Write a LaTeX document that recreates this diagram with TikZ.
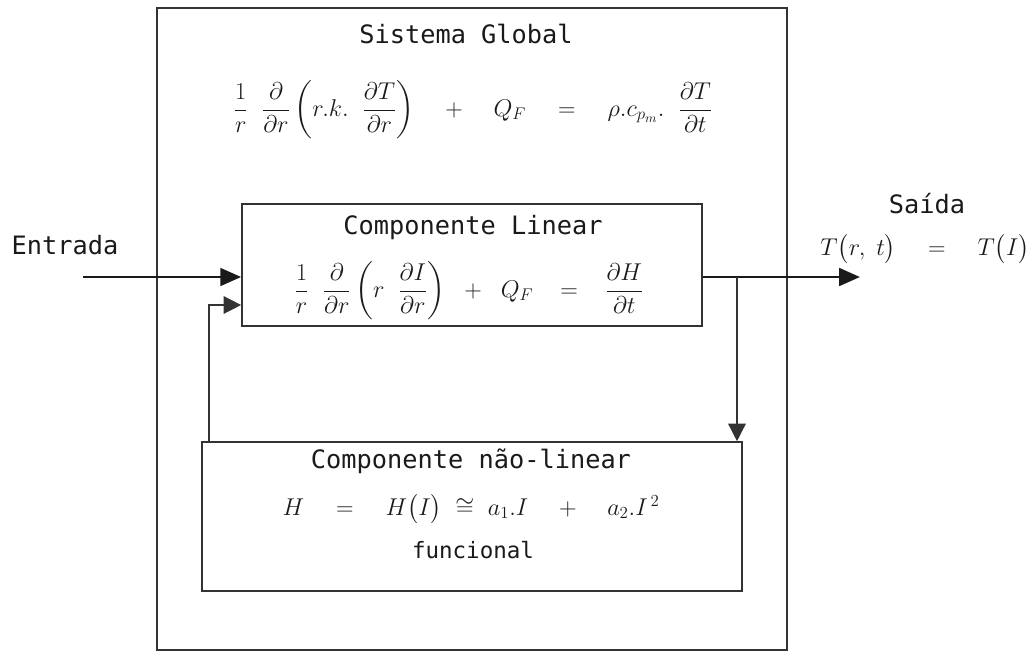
\documentclass[tikz,border=0pt]{standalone}
\usepackage{amsmath}
\usepackage{fontspec}
\setmainfont{DejaVu Sans Mono}
\usetikzlibrary{arrows.meta,positioning,calc}
\definecolor{ink}{HTML}{1A1A1A}
\definecolor{edge}{HTML}{333333}

\begin{document}
\begin{tikzpicture}[x=0.025cm,y=-0.025cm,
  blockbox/.style={draw=edge,line width=1.1pt,inner sep=0pt},
  boxtitle/.style={font=\fontsize{18}{22}\selectfont,text=ink,inner sep=0pt},
  eqn/.style={font=\fontsize{18}{22}\selectfont,text=ink,inner sep=0pt},
  signal/.style={-{Triangle[length=5.2mm,width=4.4mm]},draw=ink,line width=2pt},
  loopline/.style={-{Triangle[length=4.4mm,width=4.4mm]},draw=edge,line width=1pt}]
  \useasboundingbox (0,0) rectangle (1028,652);
  % global system
  \node[blockbox,minimum width=15.75cm,minimum height=16.05cm] (global) at (472,329) {};
  \node[boxtitle] (globaltitle) at (466,34) {Sistema Global};
  \node[eqn] (globaleq) at (473,110) {$\displaystyle\frac{1}{r}\;\;\frac{\partial}{\partial r}\left(r.k.\;\;\frac{\partial T}{\partial r}\right)\quad+\quad Q_F\quad=\quad\rho.c_{p_m}.\;\;\frac{\partial T}{\partial t}$};
  % linear part
  \node[blockbox,fill=white,minimum width=11.5cm,minimum height=3.05cm] (linear) at (472,265) {};
  \node[boxtitle] (lineartitle) at (473,228) {Componente Linear};
  \node[eqn] (lineareq) at (469,291) {$\displaystyle\frac{1}{r}\;\;\frac{\partial}{\partial r}\left(r\;\;\frac{\partial I}{\partial r}\right)\;\;+\;\;Q_F\;\;\;=\;\;\;\frac{\partial H}{\partial t}$};
  % non-linear part
  \node[blockbox,fill=white,minimum width=13.5cm,minimum height=3.725cm] (nonlinear) at (472,516.5) {};
  \node[boxtitle] (nonlineartitle) at (471,461) {Componente não-linear};
  \node[eqn] (nonlineareq) at (471,509) {$H\quad=\quad H\bigl(I\bigr)\;\cong\;a_1.I\quad+\quad a_2.I^{\,2}$};
  \node[boxtitle,font=\fontsize{16}{20}\selectfont] (funcional) at (473,550) {funcional};
  % input / output
  \node[boxtitle] (entrada) at (65,245) {Entrada};
  \node[boxtitle] (saida) at (927,204) {Saída};
  \node[eqn] (saidaeq) at (925,249) {$T\bigl(r,\;t\bigr)\quad=\quad T\bigl(I\bigr)$};
  \coordinate (in) at (83,277);
  \coordinate (out) at (860,277);
  \coordinate (tap) at (737,277);
  \coordinate (fb) at (209,305);
  \draw[signal] (in) -- (in -| linear.west);
  \draw[signal] (in -| linear.east) -- (out);
  \draw[loopline] (tap) -- (tap |- nonlinear.north);
  \draw[loopline] (fb |- nonlinear.north) -- (fb) -- (fb -| linear.west);
\end{tikzpicture}
\end{document}
